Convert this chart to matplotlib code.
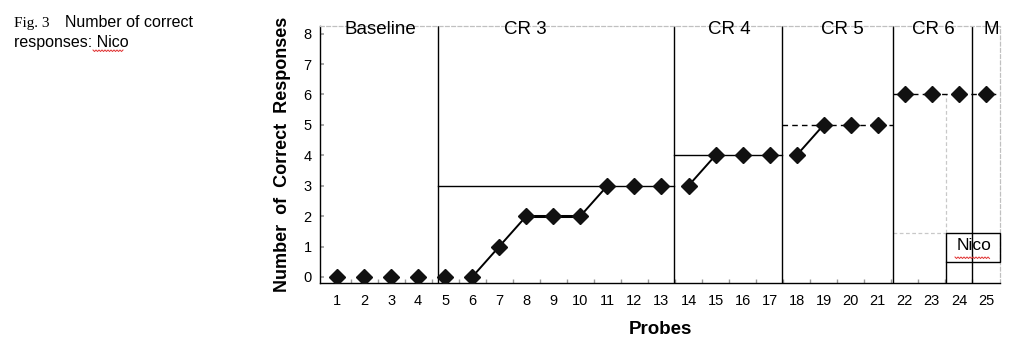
import matplotlib

matplotlib.use("Agg")
import matplotlib.pyplot as plt
import numpy as np

plt.rcParams["font.family"] = ["Liberation Sans", "DejaVu Sans"]

probes = list(range(1, 26))
responses = [0, 0, 0, 0, 0, 0, 1, 2, 2, 2, 3, 3, 3, 3, 4, 4, 4, 4, 5, 5, 5, 6, 6, 6, 6]

phase_names = ["Baseline", "CR 3", "CR 4", "CR 5", "CR 6", "M"]
phase_label_x = [2.59, 7.95, 15.5, 19.7, 23.05, 25.2]
phase_bounds = [4.73, 13.46, 17.46, 21.56, 24.48]

# criterion level, start, end, style
criteria = [
    (3, 4.73, 13.46, "-"),
    (4, 13.46, 17.46, "-"),
    (5, 17.46, 21.56, (0, (4, 3))),
    (6, 21.56, 25.52, (0, (4, 3))),
]
# runs of probes joined by the data line (first, last)
joined = [(6, 11), (14, 15), (18, 19)]
thick = (8, 10)

XLIM = (0.37, 25.52)
YLIM = (-0.2, 8.25)
BOX_X = 23.52
BOX_TOP, BOX_BOTTOM = 1.45, 0.5

fig = plt.figure(figsize=(10.33, 3.51), dpi=100)
ax = fig.add_axes([320 / 1033, 68 / 351, 680 / 1033, 257 / 351])
ax.set_xlim(*XLIM)
ax.set_ylim(*YLIM)

p = np.array(probes)
r = np.array(responses)

for lvl, x0, x1, ls in criteria:
    ax.plot([x0, x1], [lvl, lvl], color="black", lw=1.0, ls=ls, zorder=2)

for a, b in joined:
    m = (p >= a) & (p <= b)
    ax.plot(p[m], r[m], color="black", lw=1.4, zorder=3)
m = (p >= thick[0]) & (p <= thick[1])
ax.plot(p[m], r[m], color="black", lw=2.2, zorder=3)

ax.plot(p, r, ls="none", marker="D", ms=8.3, color="#111111", zorder=4)

for xb in phase_bounds:
    ax.axvline(xb, color="black", lw=1.0, zorder=2)

for name, xl in zip(phase_names, phase_label_x):
    ax.text(xl, 0.969, name, transform=ax.get_xaxis_transform(), ha="center",
            va="baseline", fontsize=13.5)

# legend-like box inside CR 6 / M
ax.plot([BOX_X, BOX_X], [BOX_TOP, 6], color="#c8c8c8", lw=0.9, ls=(0, (3, 2)), zorder=1)
ax.plot([phase_bounds[3], BOX_X], [BOX_TOP, BOX_TOP], color="#c8c8c8", lw=0.9,
        ls=(0, (3, 2)), zorder=1)
ax.plot([BOX_X, BOX_X], [YLIM[0], BOX_BOTTOM], color="black", lw=1.0, zorder=2)
ax.add_patch(plt.Rectangle((BOX_X, BOX_BOTTOM), XLIM[1] - BOX_X, BOX_TOP - BOX_BOTTOM,
                           fill=False, ec="black", lw=1.0, zorder=3, clip_on=False))
ax.text((BOX_X + XLIM[1]) / 2 + 0.05, (BOX_TOP + BOX_BOTTOM) / 2 + 0.05, "Nico",
        ha="center", va="center", fontsize=12.5, zorder=4)

for side in ("left", "bottom"):
    ax.spines[side].set_color("black")
    ax.spines[side].set_linewidth(1.0)
for side in ("top", "right"):
    ax.spines[side].set_color("#c0c0c0")
    ax.spines[side].set_linestyle((0, (3, 2)))
    ax.spines[side].set_linewidth(0.9)

ax.set_xticks(probes)
ax.set_xticks(np.arange(1.5, 25, 1.0), minor=True)
ax.set_yticks(range(0, 9))
ax.tick_params(axis="x", which="major", length=0, pad=8, labelsize=10.5)
ax.tick_params(axis="x", which="minor", direction="in", length=3, color="#999999", width=1)
ax.tick_params(axis="y", direction="in", length=3, color="#999999", width=1.2,
               labelsize=10.5, pad=6)

ax.set_xlabel("Probes", fontsize=13.5, fontweight="bold", labelpad=9)
ax.set_ylabel("Number  of  Correct  Responses", fontsize=13, fontweight="bold", labelpad=9)

fig.text(14 / 1033, 1 - 27 / 351, "Fig. 3", fontsize=11, family="Liberation Serif",
         va="baseline")
fig.text(65 / 1033, 1 - 27 / 351, "Number of correct", fontsize=11.5, va="baseline")
fig.text(14 / 1033, 1 - 47 / 351, "responses: Nico", fontsize=11.5, va="baseline")


def squiggle(x0, x1, y):
    xs = np.arange(x0, x1 + 0.1, 1.5)
    ys = y + np.where(np.arange(xs.size) % 2 == 0, 0.0, 1.5)
    fig.add_artist(plt.Line2D(xs / 1033, 1 - ys / 351, color="#e03030", lw=0.7))


squiggle(93, 123, 50)
squiggle(955, 990, 257)

fig.savefig("out.png", dpi=100)
